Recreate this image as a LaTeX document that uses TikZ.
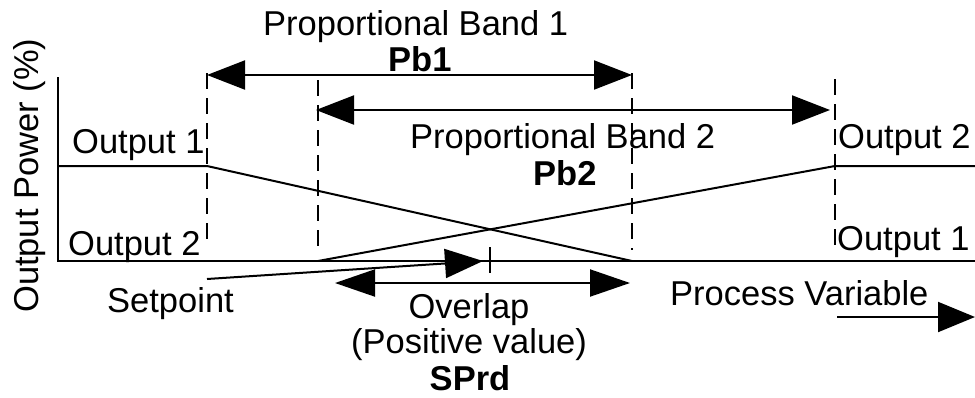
\documentclass[tikz,border=0pt]{standalone}
\usepackage{fontspec}
\setmainfont{Liberation Sans}
\usetikzlibrary{arrows.meta}
\begin{document}
\begin{tikzpicture}[x=1pt,y=-1pt,
  lbl/.style={inner sep=0pt,font=\fontsize{34.5}{40}\selectfont},
  lblb/.style={inner sep=0pt,font=\fontsize{34.5}{40}\selectfont\bfseries},
  thick line/.style={line width=2pt},
  guide/.style={line width=2pt,dash pattern=on 16pt off 9pt},
  bigtip/.style={-{Triangle[length=38pt,width=29pt]}},
  bigtips/.style={{Triangle[length=38pt,width=29pt]}-{Triangle[length=38pt,width=29pt]}}]
\useasboundingbox (0,0) rectangle (975,397);
% key points
\coordinate (axtop) at (58,77);
\coordinate (orig) at (58,261);
\coordinate (axend) at (975,261);
\coordinate (o1a) at (58,166);
\coordinate (o1b) at (207,166);
\coordinate (o1c) at (632,261);
\coordinate (o2a) at (318,261);
\coordinate (o2b) at (835,166);
\coordinate (o2c) at (975,166);
% dashed guides
\coordinate (d1t) at (207,73);  \coordinate (d1b) at (207,247);
\coordinate (d2t) at (318,80);  \coordinate (d2b) at (318,253);
\coordinate (d3t) at (632,73);  \coordinate (d3b) at (632,250);
\coordinate (d4t) at (835,79);  \coordinate (d4b) at (835,252);
\draw[guide] (d1t) -- (d1b);
\draw[guide] (d2t) -- (d2b);
\draw[guide] (d3t) -- (d3b);
\draw[guide] (d4t) -- (d4b);
% axes
\draw[thick line] (axtop) -- (orig) -- (axend);
% output curves
\draw[thick line] (o1a) -- (o1b) -- (o1c);
\draw[thick line] (o2a) -- (o2b) -- (o2c);
% band arrows
\coordinate (pb1l) at (207,75); \coordinate (pb1r) at (632,75);
\coordinate (pb2l) at (316,110); \coordinate (pb2r) at (830,110);
\draw[thick line,bigtips] (pb1l) -- (pb1r);
\draw[thick line,bigtips] (pb2l) -- (pb2r);
% setpoint arrow and tick
\coordinate (spa) at (207,279); \coordinate (spb) at (483,261);
\draw[thick line,bigtip] (spa) -- (spb);
\coordinate (tkt) at (490,247); \coordinate (tkb) at (490,273);
\draw[thick line] (tkt) -- (tkb);
% overlap arrow
\coordinate (ovl) at (335,283); \coordinate (ovr) at (630,283);
\draw[thick line,{Triangle[length=40pt,width=27pt]}-{Triangle[length=40pt,width=27pt]}] (ovl) -- (ovr);
% process variable arrow
\coordinate (pva) at (837,317); \coordinate (pvb) at (975,317);
\draw[thick line,-{Triangle[length=37pt,width=30pt]}] (pva) -- (pvb);
% labels
\node[lbl,anchor=base west] (tpb1) at (263,35) {Proportional Band 1};
\node[lblb,anchor=base west] (npb1) at (388,71) {Pb1};
\node[lbl,anchor=base west] (tpb2) at (410,148) {Proportional Band 2};
\node[lblb,anchor=base west] (npb2) at (533,185) {Pb2};
\node[lbl,anchor=base west] (lo1) at (72,153) {Output 1};
\node[lbl,anchor=base west] (lo2) at (68,255) {Output 2};
\node[lbl,anchor=base west] (ro2) at (838,148) {Output 2};
\node[lbl,anchor=base west] (ro1) at (837,250) {Output 1};
\node[lbl,anchor=base west] (sp) at (107,312) {Setpoint};
\node[lbl,anchor=base] (ov) at (469,318) {Overlap};
\node[lbl,anchor=base] (pos) at (469,353) {(Positive value)};
\node[lblb,anchor=base] (sprd) at (470,390) {SPrd};
\node[lbl,anchor=base west] (pv) at (670,305) {Process Variable};
\node[lbl,anchor=base west,rotate=90] (yl) at (38,313) {Output Power (\%)};
\end{tikzpicture}
\end{document}
